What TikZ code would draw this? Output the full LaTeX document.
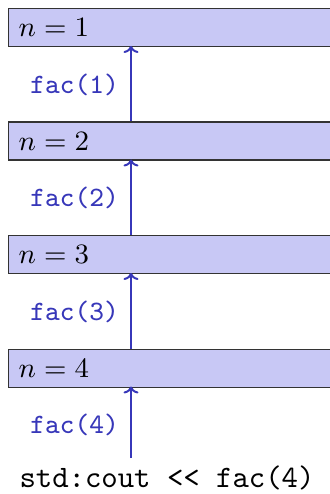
\documentclass[tikz,border=0pt]{standalone}
\usepackage{tikz}
\usetikzlibrary{arrows.meta}
\usepackage{graphicx}
\definecolor{boxfill}{RGB}{200,200,245}
\definecolor{callblue}{RGB}{55,55,185}
\newcommand{\sx}[1]{\scalebox{3.12}{#1}}
\begin{document}
\begin{tikzpicture}[x=1pt,y=-1pt,
  frame/.style={draw=black!80,fill=boxfill,line width=1.3pt,minimum width=330pt,minimum height=38pt,anchor=north west,inner sep=0pt},
  nlabel/.style={anchor=west,inner sep=0pt},
  call/.style={callblue,line width=2pt,-{Computer Modern Rightarrow[length=7pt,width=15pt]}},
  calllabel/.style={callblue,anchor=east,inner sep=0pt}]
\useasboundingbox (0,0) rectangle (329,494);
\node[frame] (b1) at (8,8) {};
\node[frame] (b2) at (8,121.5) {};
\node[frame] (b3) at (8,235) {};
\node[frame] (b4) at (8,348.5) {};
\node[nlabel] (t1) at (18.5,27.5) {\sx{\small$n=1$}};
\node[nlabel] (t2) at (18.5,141) {\sx{\small$n=2$}};
\node[nlabel] (t3) at (18.5,254.5) {\sx{\small$n=3$}};
\node[nlabel] (t4) at (18.5,368) {\sx{\small$n=4$}};
\coordinate (a1) at (131,46);
\coordinate (a2) at (131,159.5);
\coordinate (a3) at (131,273);
\coordinate (a4) at (131,386.5);
\coordinate (s1) at (131,121.5);
\coordinate (s2) at (131,235);
\coordinate (s3) at (131,348.5);
\node[inner sep=0pt] (main) at (167,478) {\sx{\ttfamily std:cout << fac(4)}};
\coordinate (s4) at (131,458);
\draw[call] (s1) -- (a1);
\draw[call] (s2) -- (a2);
\draw[call] (s3) -- (a3);
\draw[call] (s4) -- (a4);
\node[calllabel] (l1) at (119,84.5) {\sx{\small\ttfamily fac(1)}};
\node[calllabel] (l2) at (119,198) {\sx{\small\ttfamily fac(2)}};
\node[calllabel] (l3) at (119,311.5) {\sx{\small\ttfamily fac(3)}};
\node[calllabel] (l4) at (119,425) {\sx{\small\ttfamily fac(4)}};
\end{tikzpicture}
\end{document}
